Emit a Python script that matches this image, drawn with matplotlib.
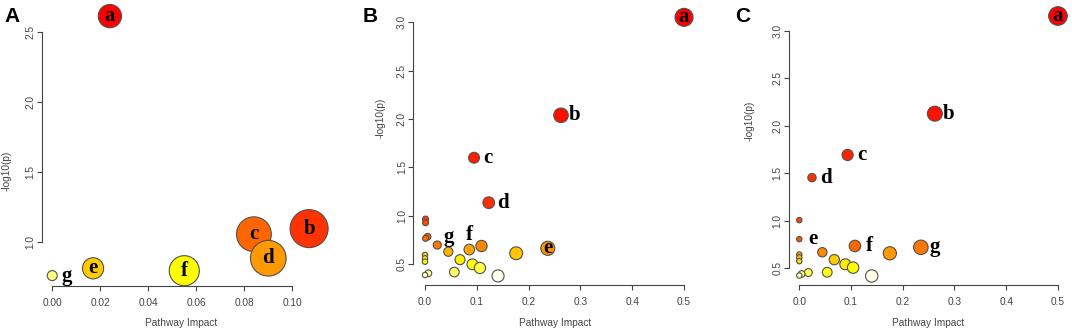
import colorsys
import numpy as np
import matplotlib
import matplotlib.pyplot as plt

matplotlib.use('agg')

W, H = 1072, 333

# panel A
a_x = [0.024, 0.107, 0.084, 0.090, 0.017, 0.055, 0.000]
a_y = [2.61, 1.095, 1.055, 0.884, 0.812, 0.795, 0.760]
a_labels = [('a', 0, 'c'), ('b', 1, 'c'), ('c', 2, 'c'), ('d', 3, 'c'),
            ('e', 4, 'c'), ('f', 5, 'c'), ('g', 6, 'r')]

# panel B
b_x = [0.500, 0.2625, 0.0946, 0.123, 0.237, 0.045, 0.0855,
       0.001, 0.001, 0.005, 0.001, 0.0237, 0.109, 0.176,
       0.0676, 0.0914, 0.106, 0.0566, 0.141,
       0.000, 0.000, 0.000, 0.0064, 0.000]
b_y = [3.049, 2.038, 1.600, 1.136, 0.665, 0.630, 0.652,
       0.967, 0.929, 0.785, 0.768, 0.699, 0.689, 0.614,
       0.548, 0.500, 0.462, 0.420, 0.380,
       0.596, 0.562, 0.527, 0.407, 0.390]
b_labels = [('a', 0, 'c'), ('b', 1, 'r'), ('c', 2, 'r'), ('d', 3, 'r'),
            ('e', 4, 'c'), ('g', 5, 'u'), ('f', 6, 'u')]

# panel C
c_x = [0.500, 0.262, 0.0934, 0.0245, 0.000, 0.1076, 0.235,
       0.000, 0.000, 0.000, 0.000, 0.0445, 0.0677, 0.089, 0.104,
       0.175, 0.0174, 0.0045, 0.000, 0.054, 0.140]
c_y = [3.158, 2.129, 1.694, 1.455, 0.807, 0.735, 0.721,
       1.007, 0.645, 0.615, 0.575, 0.669, 0.591, 0.542, 0.507,
       0.658, 0.455, 0.440, 0.424, 0.458, 0.419]
c_labels = [('a', 0, 'c'), ('b', 1, 'r'), ('c', 2, 'r'), ('d', 3, 'r'),
            ('e', 4, 'r'), ('f', 5, 'r'), ('g', 6, 'r')]

x_ticks_a = [0.00, 0.02, 0.04, 0.06, 0.08, 0.10]
y_ticks_a = [1.0, 1.5, 2.0, 2.5]
x_ticks_bc = [0.0, 0.1, 0.2, 0.3, 0.4, 0.5]
y_ticks_bc = [0.5, 1.0, 1.5, 2.0, 2.5, 3.0]


def heat_colors(n):
    # same as R's heat.colors(n)
    j = n // 4
    i = n - j
    cols = [colorsys.hsv_to_rgb(h, 1, 1) for h in np.linspace(0, 1 / 6, i)]
    if j > 0:
        for s in np.linspace(1 - 1 / (2 * j), 1 / (2 * j), j):
            cols.append(colorsys.hsv_to_rgb(1 / 6, s, 1))
    return cols


def px_box(left, top, right, bottom):
    return [left / W, 1 - bottom / H, (right - left) / W, (bottom - top) / H]


fig = plt.figure(figsize=(W / 100, H / 100), dpi=100)
GREY = '#444444'
TICKFONT = dict(family='Liberation Sans', size=7.3, color=GREY)


def panel(box, xs, ys, labels, xlim, ylim, xt, yt, xfmt, rmin, rmax,
          letter, letter_x, ylab_pos, xlab_pos):
    ax = fig.add_axes(px_box(*box))
    ax.set_xlim(xlim)
    ax.set_ylim(ylim)
    xs = np.array(xs)
    ys = np.array(ys)
    order = np.argsort(-ys, kind='stable')
    cols = heat_colors(len(ys))
    colors = [None] * len(ys)
    for rank, idx in enumerate(order):
        colors[idx] = cols[rank]
    radii = rmin + (rmax - rmin) * np.sqrt(xs / xs.max())
    ax.scatter(xs, ys, s=(1.44 * radii) ** 2, c=colors, edgecolors='#505050',
               linewidths=0.8, clip_on=False, zorder=3)
    for txt, i, mode in labels:
        if mode == 'c':
            off = (0, 0)
        elif mode == 'r':
            off = (14 * 0.72, 0)
        else:
            off = (0, 15 * 0.72)
        ax.annotate(txt, (xs[i], ys[i]), xytext=off, textcoords='offset points',
                    ha='center', va='center', family='Liberation Serif',
                    fontweight='bold', fontsize=15, zorder=4,
                    annotation_clip=False)
    for s in ['top', 'right']:
        ax.spines[s].set_visible(False)
    for s in ['left', 'bottom']:
        ax.spines[s].set_color(GREY)
        ax.spines[s].set_linewidth(0.8)
    ax.spines['bottom'].set_bounds(xt[0], xt[-1])
    ax.spines['left'].set_bounds(yt[0], yt[-1])
    ax.set_xticks(xt, [xfmt.format(v) for v in xt], **TICKFONT)
    ax.set_yticks(yt, ['{:.1f}'.format(v) for v in yt], **TICKFONT)
    ax.tick_params(axis='x', length=3.6, width=0.8, color=GREY, pad=5)
    ax.tick_params(axis='y', length=3.6, width=0.8, color=GREY, pad=1)
    for lab in ax.get_yticklabels():
        lab.set_rotation(90)
        lab.set_va('center')
    ax.patch.set_visible(False)
    fig.text(letter_x / W, 1 - 16 / H, letter, family='Liberation Sans',
             fontweight='bold', fontsize=15, ha='left', va='center')
    fig.text(ylab_pos[0] / W, 1 - ylab_pos[1] / H, '-log10(p)', rotation=90,
             ha='center', va='center', **TICKFONT)
    fig.text(xlab_pos[0] / W, 1 - xlab_pos[1] / H, 'Pathway Impact',
             ha='center', va='center', **TICKFONT)
    return ax


panel((41.7, 3, 330, 286), a_x, a_y, a_labels, (-0.0044, 0.1157), (0.686, 2.7035),
      x_ticks_a, y_ticks_a, '{:.2f}', 5, 19, 'A', 4, (7, 171), (181, 323))
panel((413.3, 3, 697, 285), b_x, b_y, b_labels, (-0.0226, 0.525), (0.2864, 3.197),
      x_ticks_bc, y_ticks_bc, '{:.1f}', 2.7, 9, 'B', 363, (381, 118), (555, 323))
panel((789, 3, 1067, 285), c_x, c_y, c_labels, (-0.0199, 0.5175), (0.324, 3.295),
      x_ticks_bc, y_ticks_bc, '{:.1f}', 2.7, 9.3, 'C', 735, (750, 121), (928, 323))

fig.savefig('out.png', dpi=100)
